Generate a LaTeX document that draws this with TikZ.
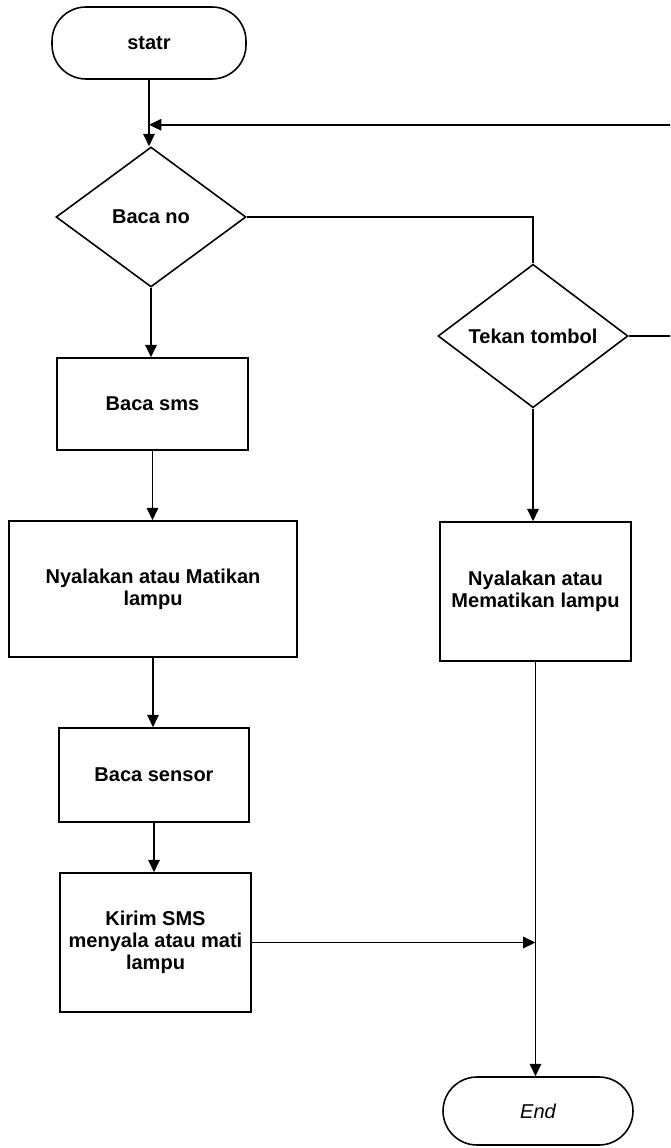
\documentclass[tikz,border=0pt]{standalone}
\usepackage{fontspec}
\setmainfont{Liberation Sans}
\usetikzlibrary{shapes.geometric,arrows.meta,calc}
\begin{document}
\begin{tikzpicture}[x=0.02cm,y=-0.02cm,
 line width=0.9pt,
 every node/.style={font=\fontsize{11.4}{12.5}\selectfont\bfseries, align=center},
 term/.style={draw, rectangle, rounded corners=0.68cm, inner sep=0pt},
 proc/.style={draw, rectangle, inner sep=0pt},
 dec/.style={draw, diamond, inner sep=0pt, minimum width=3.8cm, minimum height=2.8cm},
 arr/.style={-{Triangle[length=7pt,width=6.5pt]}}]
\useasboundingbox (0,0) rectangle (670,1148);
\clip (0,0) rectangle (670,1148);
\fill[white] (0,0) rectangle (670,1148);
\node[term, minimum width=3.88cm, minimum height=1.44cm] (start) at (149,43) {statr};
\node[dec] (bacano) at (151,217) {Baca no};
\node[dec] (tekan) at (533,336) {Tekan tombol};
\node[proc, minimum width=3.82cm, minimum height=1.84cm] (bacasms) at (152.5,404) {Baca sms};
\node[proc, minimum width=5.76cm, minimum height=2.72cm] (nyala1) at (153,589) {Nyalakan atau Matikan\\lampu};
\node[proc, minimum width=3.82cm, minimum height=2.78cm] (nyala2) at (535.5,591.5) {Nyalakan atau\\Mematikan lampu};
\node[proc, minimum width=3.8cm, minimum height=1.88cm] (sensor) at (154,775) {Baca sensor};
\node[proc, minimum width=3.82cm, minimum height=2.78cm] (kirim) at (155.5,942.5) {Kirim SMS\\menyala atau mati\\lampu};
\node[term, minimum width=3.8cm, minimum height=1.36cm, font=\fontsize{11.4}{12.5}\selectfont\itshape] (end) at (538,1111) {End};
% connectors
\path (start.south) ++(0,45) coordinate (loopin);
\draw[arr] (start.south) -- (start.south |- bacano.north);
\draw[arr] (tekan.east) -- ++(50,0) |- (loopin);
\draw (bacano.east) -| (tekan.north);
\draw[arr] (bacano.south) -- (bacano.south |- bacasms.north);
\draw[arr] (bacasms.south) -- (bacasms.south |- nyala1.north);
\draw[arr] (nyala1.south) -- (nyala1.south |- sensor.north);
\draw[arr] (sensor.south) -- (sensor.south |- kirim.north);
\draw[arr] (tekan.south) -- (tekan.south |- nyala2.north);
\draw[arr] (nyala2.south) -- (nyala2.south |- end.north);
\coordinate (join) at (nyala2.south |- kirim.east);
\draw[arr] (kirim.east) -- (join);
\end{tikzpicture}
\end{document}
